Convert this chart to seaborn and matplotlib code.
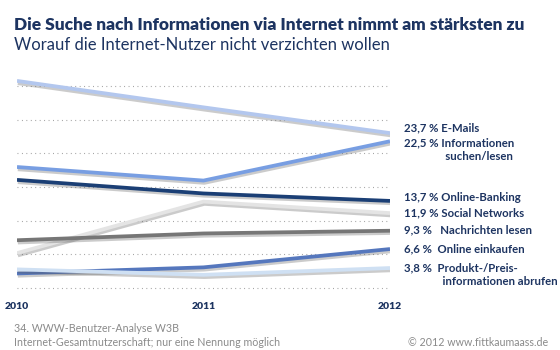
import matplotlib
matplotlib.use("Agg")
import matplotlib.pyplot as plt
import matplotlib.patheffects as pe
import seaborn as sns
import pandas as pd

# ---- data ----
years = [2010, 2011, 2012]
series_names = ["E-Mails", "Informationen suchen/lesen", "Online-Banking",
                "Social Networks", "Nachrichten lesen", "Online einkaufen",
                "Produkt-/Preisinformationen abrufen"]
emails = [31.4, 27.5, 23.7]
informationen = [18.7, 16.7, 22.5]
banking = [16.8, 14.8, 13.7]
social = [6.0, 13.6, 11.9]
nachrichten = [7.9, 8.9, 9.3]
einkaufen = [3.0, 3.9, 6.6]
produkt = [3.6, 2.8, 3.8]
end_labels = ["23,7 % E-Mails", "22,5 % Informationen\n               suchen/lesen",
              "13,7 % Online-Banking", "11,9 % Social Networks",
              "9,3 %   Nachrichten lesen", "6,6 %  Online einkaufen",
              "3,8 %  Produkt-/Preis-\n              informationen abrufen"]
year_labels = ["2010", "2011", "2012"]
title = "Die Suche nach Informationen via Internet nimmt am stärksten zu"
subtitle = "Worauf die Internet-Nutzer nicht verzichten wollen"
source1 = "34. WWW-Benutzer-Analyse W3B"
source2 = "Internet-Gesamtnutzerschaft; nur eine Nennung möglich"
copyright_txt = "© 2012 www.fittkaumaass.de"

all_values = [emails, informationen, banking, social, nachrichten, einkaufen, produkt]
rows = []
for name, vals in zip(series_names, all_values):
    for y, v in zip(years, vals):
        rows.append({"Jahr": y, "Anteil": v, "Serie": name})
df = pd.DataFrame(rows)

colors = ["#b3c7ee", "#789ee2", "#1b3f75", "#e4e4e4", "#767676", "#5577bd", "#cfe0f3"]
palette = dict(zip(series_names, colors))

NAVY = "#1d3461"
GREY = "#8a8a8a"

sns.set_style("white")
plt.rcParams["font.family"] = ["Lato", "DejaVu Sans"]

fig = plt.figure(figsize=(5.6, 3.5), dpi=100)
ax = fig.add_axes([17 / 560, 1 - 293.8 / 350, (390 - 17) / 560, (293.8 - 75) / 350])

sns.lineplot(data=df, x="Jahr", y="Anteil", hue="Serie", hue_order=series_names,
             palette=palette, linewidth=2.7, legend=False, ax=ax, sort=False)
for line in ax.get_lines():
    line.set_solid_capstyle("butt")
    line.set_path_effects([pe.SimpleLineShadow(offset=(0.6, -1.5), shadow_color="#555555",
                                               alpha=0.3, linewidth=3.0),
                           pe.Normal()])

ax.set_xlim(2010, 2012)
ax.set_ylim(0, 32.27)
gridvals = [0.9, 5.85, 10.8, 15.75, 20.7, 25.65, 30.6]
for g in gridvals:
    ax.axhline(g, color="#9a9a9a", lw=0.8, ls=(0, (0.8, 3.2)), zorder=0)
ax.set_yticks([])
ax.set_xticks(years)
ax.set_xticklabels(year_labels, fontsize=7.5, fontweight="heavy", color=NAVY)
ax.tick_params(axis="x", length=0, pad=6)
ax.set_xlabel("")
ax.set_ylabel("")
for s in ax.spines.values():
    s.set_visible(False)
ax.patch.set_alpha(0)

# end labels
label_y_px = [128, 143, 198, 213.6, 230, 249, 268]
for txt, ypx in zip(end_labels, label_y_px):
    fig.text(404 / 560, 1 - (ypx - 6) / 350, txt, fontsize=8.2, fontweight="bold",
             color=NAVY, ha="left", va="top", linespacing=1.3)

fig.text(14 / 560, 1 - 25 / 350, title, fontsize=12.4, fontweight="heavy", color=NAVY,
         ha="left", va="center")
fig.text(14 / 560, 1 - 45 / 350, subtitle, fontsize=12, color=NAVY, ha="left", va="center")
fig.text(14 / 560, 1 - 328 / 350, source1, fontsize=7.7, color=GREY, ha="left", va="center")
fig.text(14 / 560, 1 - 343 / 350, source2, fontsize=7.7, color=GREY, ha="left", va="center")
fig.text(548 / 560, 1 - 343 / 350, copyright_txt, fontsize=7.7, color=GREY, ha="right", va="center")

fig.savefig("out.png", dpi=100, facecolor="white")
